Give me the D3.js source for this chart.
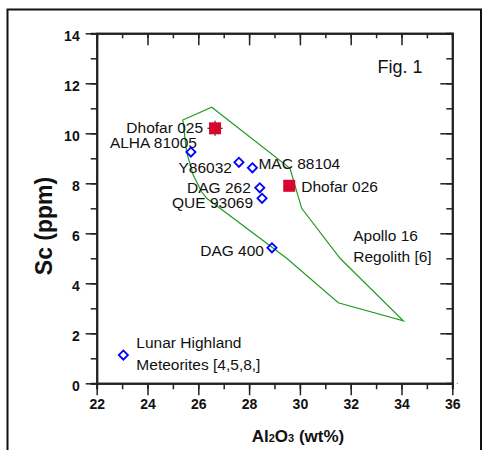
<!DOCTYPE html>
<html>
<head>
<meta charset="utf-8">
<script src="https://cdn.jsdelivr.net/npm/d3@7.9.0/dist/d3.min.js"></script>
<style>
  body { margin: 0; background: #fff; }
  svg { display: block; font-family: "Liberation Sans", Arial, sans-serif; }
  .tick text { font-weight: bold; font-size: 14px; fill: #111; }
  .lbl { font-size: 15.5px; fill: #111; }
</style>
</head>
<body>
<svg width="483" height="450"></svg>
<script>
// lunar meteorites (open diamonds)
const meteoriteNames = ['ALHA 81005', 'Y86032', 'MAC 88104', 'DAG 262', 'QUE 93069', 'DAG 400'];
const meteoriteAl2O3 = [25.71, 27.6, 28.13, 28.42, 28.51, 28.9];
const meteoriteSc = [9.25, 8.84, 8.62, 7.82, 7.4, 5.42];

// Dhofar samples (filled squares)
const dhofarNames = ['Dhofar 025', 'Dhofar 026'];
const dhofarAl2O3 = [26.66, 29.58];
const dhofarSc = [10.2, 7.9];
const dhofarErrAl2O3 = [0.3, 0];
const dhofarErrSc = [0.3, 0];

// Apollo 16 regolith field outline
const regolithAl2O3 = [25.39, 26.53, 29.61, 30.07, 31.58, 34.07, 31.51, 29.48, 26.33, 26.13, 25.8, 25.54];
const regolithSc = [10.53, 11.04, 8.6, 7.0, 5.0, 2.5, 3.22, 5.0, 7.4, 7.66, 8.33, 9.25];

const xTicks = [22, 24, 26, 28, 30, 32, 34, 36];
const xMinor = d3.range(22, 37, 1);
const yTicks = [0, 2, 4, 6, 8, 10, 12, 14];
const yMinor = d3.range(0, 15, 1);

const svg = d3.select('svg');
const x = d3.scaleLinear().domain([22, 36]).range([96.7, 452.3]);
const y = d3.scaleLinear().domain([0, 14]).range([383.3, 33.3]);

// outer frame
svg.append('path')
  .attr('d', 'M7.5,460 V9.5 H481 V460')
  .attr('fill', 'none').attr('stroke', '#111').attr('stroke-width', 2);

// axes: minor ticks first, then major with labels
function axisGroup(axis, tx, ty) {
  return svg.append('g').attr('transform', `translate(${tx},${ty})`).call(axis);
}
const bottomY = y(0), leftX = x(22);

axisGroup(d3.axisBottom(x).tickValues(xMinor).tickSize(6).tickFormat(''), 0, bottomY);
const gb = axisGroup(d3.axisBottom(x).tickValues(xTicks).tickSize(12).tickPadding(4).tickSizeOuter(0), 0, bottomY);
axisGroup(d3.axisTop(x).tickValues(xMinor).tickSize(-5).tickFormat(''), 0, y(14));
axisGroup(d3.axisTop(x).tickValues(xTicks).tickSize(-12).tickFormat('').tickSizeOuter(0), 0, y(14));

axisGroup(d3.axisLeft(y).tickValues(yMinor).tickSize(6).tickFormat(''), leftX, 0);
const gl = axisGroup(d3.axisLeft(y).tickValues(yTicks).tickSize(11).tickPadding(6).tickSizeOuter(0), leftX, 0);
axisGroup(d3.axisRight(y).tickValues(yMinor).tickSize(-6).tickFormat(''), x(36), 0);
axisGroup(d3.axisRight(y).tickValues(yTicks).tickSize(-12).tickFormat('').tickSizeOuter(0), x(36), 0);

gl.selectAll('.tick text').attr('dy', '0.5em');
svg.selectAll('.domain').attr('stroke', '#222').attr('stroke-width', 2);
svg.selectAll('.tick line').attr('stroke', '#222').attr('stroke-width', 1.5);
svg.selectAll('.tick text').attr('font-family', null).attr('font-size', null);

// tiny stray mark at bottom-right corner
svg.append('rect').attr('x', x(36) + 4.5).attr('y', bottomY - 0.5)
  .attr('width', 1).attr('height', 1).attr('fill', '#666');

// regolith field
const field = d3.line().x(d => x(d[0])).y(d => y(d[1])).curve(d3.curveLinearClosed);
svg.append('path')
  .attr('d', field(d3.zip(regolithAl2O3, regolithSc)))
  .attr('fill', 'none').attr('stroke', '#1f9c1f').attr('stroke-width', 1.2);

// diamonds
const diamond = d3.symbol().type(d3.symbolSquare).size(42);
function drawDiamond(cx, cy) {
  svg.append('path').attr('d', diamond())
    .attr('transform', `translate(${cx},${cy}) rotate(45)`)
    .attr('fill', 'none').attr('stroke', '#0000ff').attr('stroke-width', 1.8);
}
meteoriteAl2O3.forEach((a, i) => drawDiamond(x(a), y(meteoriteSc[i])));

// squares with error bars
dhofarAl2O3.forEach((a, i) => {
  const cx = x(a), cy = y(dhofarSc[i]);
  if (dhofarErrAl2O3[i] > 0) {
    svg.append('line').attr('x1', x(a - dhofarErrAl2O3[i])).attr('x2', x(a + dhofarErrAl2O3[i]))
      .attr('y1', cy).attr('y2', cy).attr('stroke', '#333').attr('stroke-width', 1.2);
    svg.append('line').attr('x1', cx).attr('x2', cx)
      .attr('y1', y(dhofarSc[i] - dhofarErrSc[i])).attr('y2', y(dhofarSc[i] + dhofarErrSc[i]))
      .attr('stroke', '#333').attr('stroke-width', 1.2);
  }
  svg.append('rect').attr('x', cx - 6).attr('y', cy - 6).attr('width', 12).attr('height', 12)
    .attr('fill', '#d7062f');
});

// point labels: [anchor, dx, dy]
const meteoriteLabelPos = [['end', 6, -4], ['end', -7, 11], ['start', 6, 1], ['end', -9, 5.6], ['end', -9, 10], ['end', -8, 8]];
const dhofarLabelPos = [['end', -12, 4.5], ['start', 12, 6]];
function label(text, px, py, pos) {
  svg.append('text').attr('class', 'lbl').attr('x', px + pos[1]).attr('y', py + pos[2])
    .attr('text-anchor', pos[0]).text(text);
}
meteoriteNames.forEach((n, i) => label(n, x(meteoriteAl2O3[i]), y(meteoriteSc[i]), meteoriteLabelPos[i]));
dhofarNames.forEach((n, i) => label(n, x(dhofarAl2O3[i]), y(dhofarSc[i]), dhofarLabelPos[i]));

svg.append('text').attr('class', 'lbl').attr('x', x(32.1)).attr('y', y(5.7)).text('Apollo 16');
svg.append('text').attr('class', 'lbl').attr('x', x(32.1)).attr('y', y(5.7) + 21).text('Regolith [6]');

// legend
const legX = x(23.05), legY = y(1.13);
drawDiamond(legX, legY);
svg.append('text').attr('class', 'lbl').attr('x', legX + 13).attr('y', legY - 6.7).text('Lunar Highland');
svg.append('text').attr('class', 'lbl').attr('x', legX + 13).attr('y', legY + 15).text('Meteorites [4,5,8,]');

svg.append('text').attr('x', x(33.06)).attr('y', y(12.4))
  .attr('font-size', 18).attr('fill', '#111').text('Fig. 1');

// axis titles
svg.append('text').attr('transform', 'translate(52,226) rotate(-90)')
  .attr('text-anchor', 'middle').attr('font-size', 23).attr('font-weight', 'bold')
  .attr('fill', '#111').text('Sc (ppm)');

const xt = svg.append('text').attr('x', 298).attr('y', 441.5)
  .attr('text-anchor', 'middle').attr('font-size', 17).attr('font-weight', 'bold').attr('fill', '#111');
xt.append('tspan').text('Al');
xt.append('tspan').attr('font-size', 11).text('2');
xt.append('tspan').text('O');
xt.append('tspan').attr('font-size', 11).text('3');
xt.append('tspan').text(' (wt%)');
</script>
</body>
</html>
